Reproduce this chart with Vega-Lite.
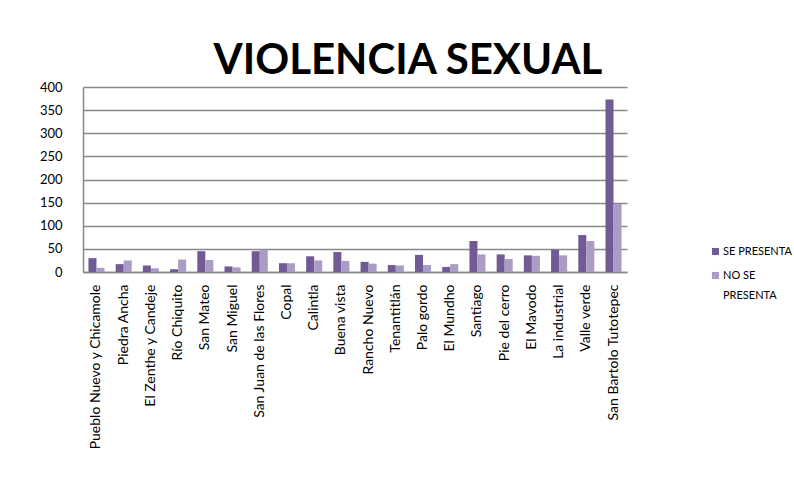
{
  "$schema": "https://vega.github.io/schema/vega-lite/v6.json",
  "autosize": "none",
  "width": 544,
  "height": 185,
  "padding": {"left": 83, "top": 87, "right": 167, "bottom": 212},
  "background": "white",
  "title": {
    "text": "VIOLENCIA SEXUAL",
    "font": "Lato",
    "fontWeight": "bold",
    "fontSize": 42,
    "color": "#000000",
    "anchor": "middle",
    "dx": 53,
    "offset": -2
  },
  "data": {
    "values": [
      {"lugar": "Pueblo Nuevo y Chicamole", "serie": "SE PRESENTA", "valor": 30},
      {"lugar": "Pueblo Nuevo y Chicamole", "serie": "NO SE PRESENTA", "valor": 9},
      {"lugar": "Piedra Ancha", "serie": "SE PRESENTA", "valor": 17},
      {"lugar": "Piedra Ancha", "serie": "NO SE PRESENTA", "valor": 25},
      {"lugar": "El Zenthe y Candeje", "serie": "SE PRESENTA", "valor": 14},
      {"lugar": "El Zenthe y Candeje", "serie": "NO SE PRESENTA", "valor": 8},
      {"lugar": "Río Chiquito", "serie": "SE PRESENTA", "valor": 6},
      {"lugar": "Río Chiquito", "serie": "NO SE PRESENTA", "valor": 27},
      {"lugar": "San Mateo", "serie": "SE PRESENTA", "valor": 45},
      {"lugar": "San Mateo", "serie": "NO SE PRESENTA", "valor": 26},
      {"lugar": "San Miguel", "serie": "SE PRESENTA", "valor": 12},
      {"lugar": "San Miguel", "serie": "NO SE PRESENTA", "valor": 10},
      {"lugar": "San Juan de las Flores", "serie": "SE PRESENTA", "valor": 45},
      {"lugar": "San Juan de las Flores", "serie": "NO SE PRESENTA", "valor": 48},
      {"lugar": "Copal", "serie": "SE PRESENTA", "valor": 19},
      {"lugar": "Copal", "serie": "NO SE PRESENTA", "valor": 19},
      {"lugar": "Calintla", "serie": "SE PRESENTA", "valor": 34},
      {"lugar": "Calintla", "serie": "NO SE PRESENTA", "valor": 25},
      {"lugar": "Buena vista", "serie": "SE PRESENTA", "valor": 43},
      {"lugar": "Buena vista", "serie": "NO SE PRESENTA", "valor": 24},
      {"lugar": "Rancho Nuevo", "serie": "SE PRESENTA", "valor": 22},
      {"lugar": "Rancho Nuevo", "serie": "NO SE PRESENTA", "valor": 18},
      {"lugar": "Tenantitlán", "serie": "SE PRESENTA", "valor": 15},
      {"lugar": "Tenantitlán", "serie": "NO SE PRESENTA", "valor": 14},
      {"lugar": "Palo gordo", "serie": "SE PRESENTA", "valor": 37},
      {"lugar": "Palo gordo", "serie": "NO SE PRESENTA", "valor": 15},
      {"lugar": "El  Mundho", "serie": "SE PRESENTA", "valor": 11},
      {"lugar": "El  Mundho", "serie": "NO SE PRESENTA", "valor": 17},
      {"lugar": "Santiago", "serie": "SE PRESENTA", "valor": 67},
      {"lugar": "Santiago", "serie": "NO SE PRESENTA", "valor": 38},
      {"lugar": "Pie del cerro", "serie": "SE PRESENTA", "valor": 38},
      {"lugar": "Pie del cerro", "serie": "NO SE PRESENTA", "valor": 28},
      {"lugar": "El Mavodo", "serie": "SE PRESENTA", "valor": 36},
      {"lugar": "El Mavodo", "serie": "NO SE PRESENTA", "valor": 35},
      {"lugar": "La industrial", "serie": "SE PRESENTA", "valor": 48},
      {"lugar": "La industrial", "serie": "NO SE PRESENTA", "valor": 36},
      {"lugar": "Valle verde", "serie": "SE PRESENTA", "valor": 80},
      {"lugar": "Valle verde", "serie": "NO SE PRESENTA", "valor": 67},
      {"lugar": "San Bartolo Tutotepec", "serie": "SE PRESENTA", "valor": 373},
      {"lugar": "San Bartolo Tutotepec", "serie": "NO SE PRESENTA", "valor": 147}
    ]
  },
  "mark": {"type": "bar"},
  "encoding": {
    "x": {
      "field": "lugar",
      "type": "nominal",
      "sort": null,
      "scale": {"paddingInner": 0.41, "paddingOuter": 0.2},
      "axis": {
        "title": null,
        "labelAngle": -90,
        "labelAlign": "right",
        "labelBaseline": "middle",
        "labelFont": "Lato",
        "labelFontSize": 14,
        "labelColor": "#000000",
        "labelPadding": 12,
        "ticks": false,
        "domainColor": "#888888",
        "domainWidth": 1.5,
        "labelLimit": 300
      }
    },
    "xOffset": {
      "field": "serie",
      "type": "nominal",
      "sort": ["SE PRESENTA", "NO SE PRESENTA"]
    },
    "y": {
      "field": "valor",
      "type": "quantitative",
      "scale": {"domain": [0, 400], "nice": false},
      "axis": {
        "title": null,
        "values": [0, 50, 100, 150, 200, 250, 300, 350, 400],
        "labelFont": "Lato",
        "labelFontSize": 13,
        "labelColor": "#000000",
        "labelPadding": 21,
        "ticks": false,
        "grid": true,
        "gridColor": "#888888",
        "gridWidth": 1.5,
        "domainColor": "#888888",
        "domainWidth": 1.5
      }
    },
    "color": {
      "field": "serie",
      "type": "nominal",
      "sort": ["SE PRESENTA", "NO SE PRESENTA"],
      "scale": {"domain": ["SE PRESENTA", "NO SE PRESENTA"], "range": ["#725a94", "#aa9cc4"]},
      "legend": {
        "title": null,
        "orient": "none",
        "legendX": 627,
        "legendY": 159,
        "padding": 0,
        "symbolType": "square",
        "symbolSize": 50,
        "symbolStrokeWidth": 0,
        "labelFont": "Lato",
        "labelFontSize": 11,
        "labelColor": "#000000",
        "labelOffset": 2,
        "labelLimit": 200,
        "rowPadding": 12,
        "labelExpr": "datum.label == 'NO SE PRESENTA' ? ['NO SE', 'PRESENTA'] : datum.label"
      }
    }
  },
  "config": {
    "view": {"stroke": null},
    "style": {"guide-label": {"lineHeight": 20}}
  }
}
